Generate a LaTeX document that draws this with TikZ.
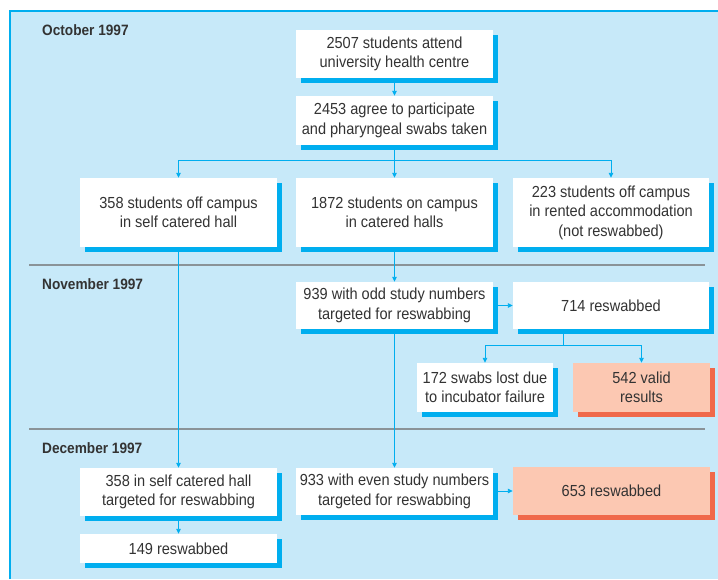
\documentclass[tikz,border=0pt]{standalone}
\usepackage{fontspec}
\setmainfont{Liberation Sans}[FakeStretch=0.91]
\usetikzlibrary{shadows,arrows.meta}
\definecolor{panel}{HTML}{C7E9F9}
\definecolor{cyanline}{HTML}{00AEEF}
\definecolor{salmon}{HTML}{FCC8B2}
\definecolor{orangesh}{HTML}{F0694A}
\definecolor{sepgray}{HTML}{8A9398}
\definecolor{txt}{HTML}{333333}
\tikzset{
  boxbase/.style={inner sep=0pt, align=center, text=txt,
    font=\fontsize{16}{19.5}\selectfont, minimum width=197pt},
  wbox/.style={boxbase, fill=white,
    drop shadow={shadow xshift=5pt, shadow yshift=-5pt, fill=cyanline, opacity=1}},
  sbox/.style={boxbase, fill=salmon,
    drop shadow={shadow xshift=5pt, shadow yshift=-5pt, fill=orangesh, opacity=1}},
  conn/.style={draw=cyanline, line width=0.9pt},
  arr/.style={conn, -{Triangle[length=5pt,width=4.5pt]}},
  sep/.style={draw=sepgray, line width=1.8pt},
  datelabel/.style={anchor=west, inner sep=0pt, text=txt, font=\fontsize{15}{17}\selectfont\bfseries}
}
\begin{document}
\begin{tikzpicture}[x=1pt,y=-1pt]
\useasboundingbox (0,0) rectangle (718,579);
\fill[panel] (10,11) rectangle (718,579);
\draw[cyanline, line width=1.5pt] (10,579) -- (10,11) -- (718,11);

\draw[sep] (29,265) -- (705,265);
\draw[sep] (29,429) -- (705,429);

\node[datelabel] (oct) at (42,30) {October 1997};
\node[datelabel] (nov) at (42,284) {November 1997};
\node[datelabel] (dec) at (42,448) {December 1997};

\node[wbox, minimum height=48pt] (A) at (394.5,54) {2507 students attend\\university health centre};
\node[wbox, minimum height=49pt] (B) at (394.5,120.5) {2453 agree to participate\\and pharyngeal swabs taken};
\node[wbox, minimum height=69pt] (C) at (178.5,212.5) {358 students off campus\\in self catered hall};
\node[wbox, minimum height=69pt] (D) at (394.5,212.5) {1872 students on campus\\in catered halls};
\node[wbox, minimum height=69pt, minimum width=196pt] (E) at (611,212.5) {223 students off campus\\in rented accommodation\\(not reswabbed)};
\node[wbox, minimum height=47pt] (F) at (394.5,305.5) {939 with odd study numbers\\targeted for reswabbing};
\node[wbox, minimum height=47pt, minimum width=196pt] (G) at (611,305.5) {714 reswabbed};
\node[wbox, minimum height=49pt, minimum width=136pt] (H) at (485,387.5) {172 swabs lost due\\to incubator failure};
\node[sbox, minimum height=49pt, minimum width=137pt] (I) at (641.5,387.5) {542 valid\\results};
\node[wbox, minimum height=48pt] (J) at (178.5,492) {358 in self catered hall\\targeted for reswabbing};
\node[wbox, minimum height=29pt] (K) at (178.5,548.5) {149 reswabbed};
\node[wbox, minimum height=47pt] (L) at (394.5,491.5) {933 with even study numbers\\targeted for reswabbing};
\node[sbox, minimum height=48pt] (M) at (611.5,491) {653 reswabbed};

\coordinate (b1) at (394.5,160);
\coordinate (g1) at (563.5,345);

\draw[arr] (A) -- (B);
\draw[conn] (B.south) -- (b1);
\draw[arr] (b1) -- (D.north);
\draw[arr] (b1) -| (C.north);
\draw[arr] (b1) -| (E.north);
\draw[arr] (D) -- (F);
\draw[arr] (F) -- (G);
\draw[conn] (G.south -| g1) -- (g1);
\draw[arr] (g1) -| (H.north);
\draw[arr] (g1) -| (I.north);
\draw[arr] (C) -- (J);
\draw[arr] (J) -- (K);
\draw[arr] (F) -- (L);
\draw[arr] (L.east |- M.west) -- (M.west);
\end{tikzpicture}
\end{document}
